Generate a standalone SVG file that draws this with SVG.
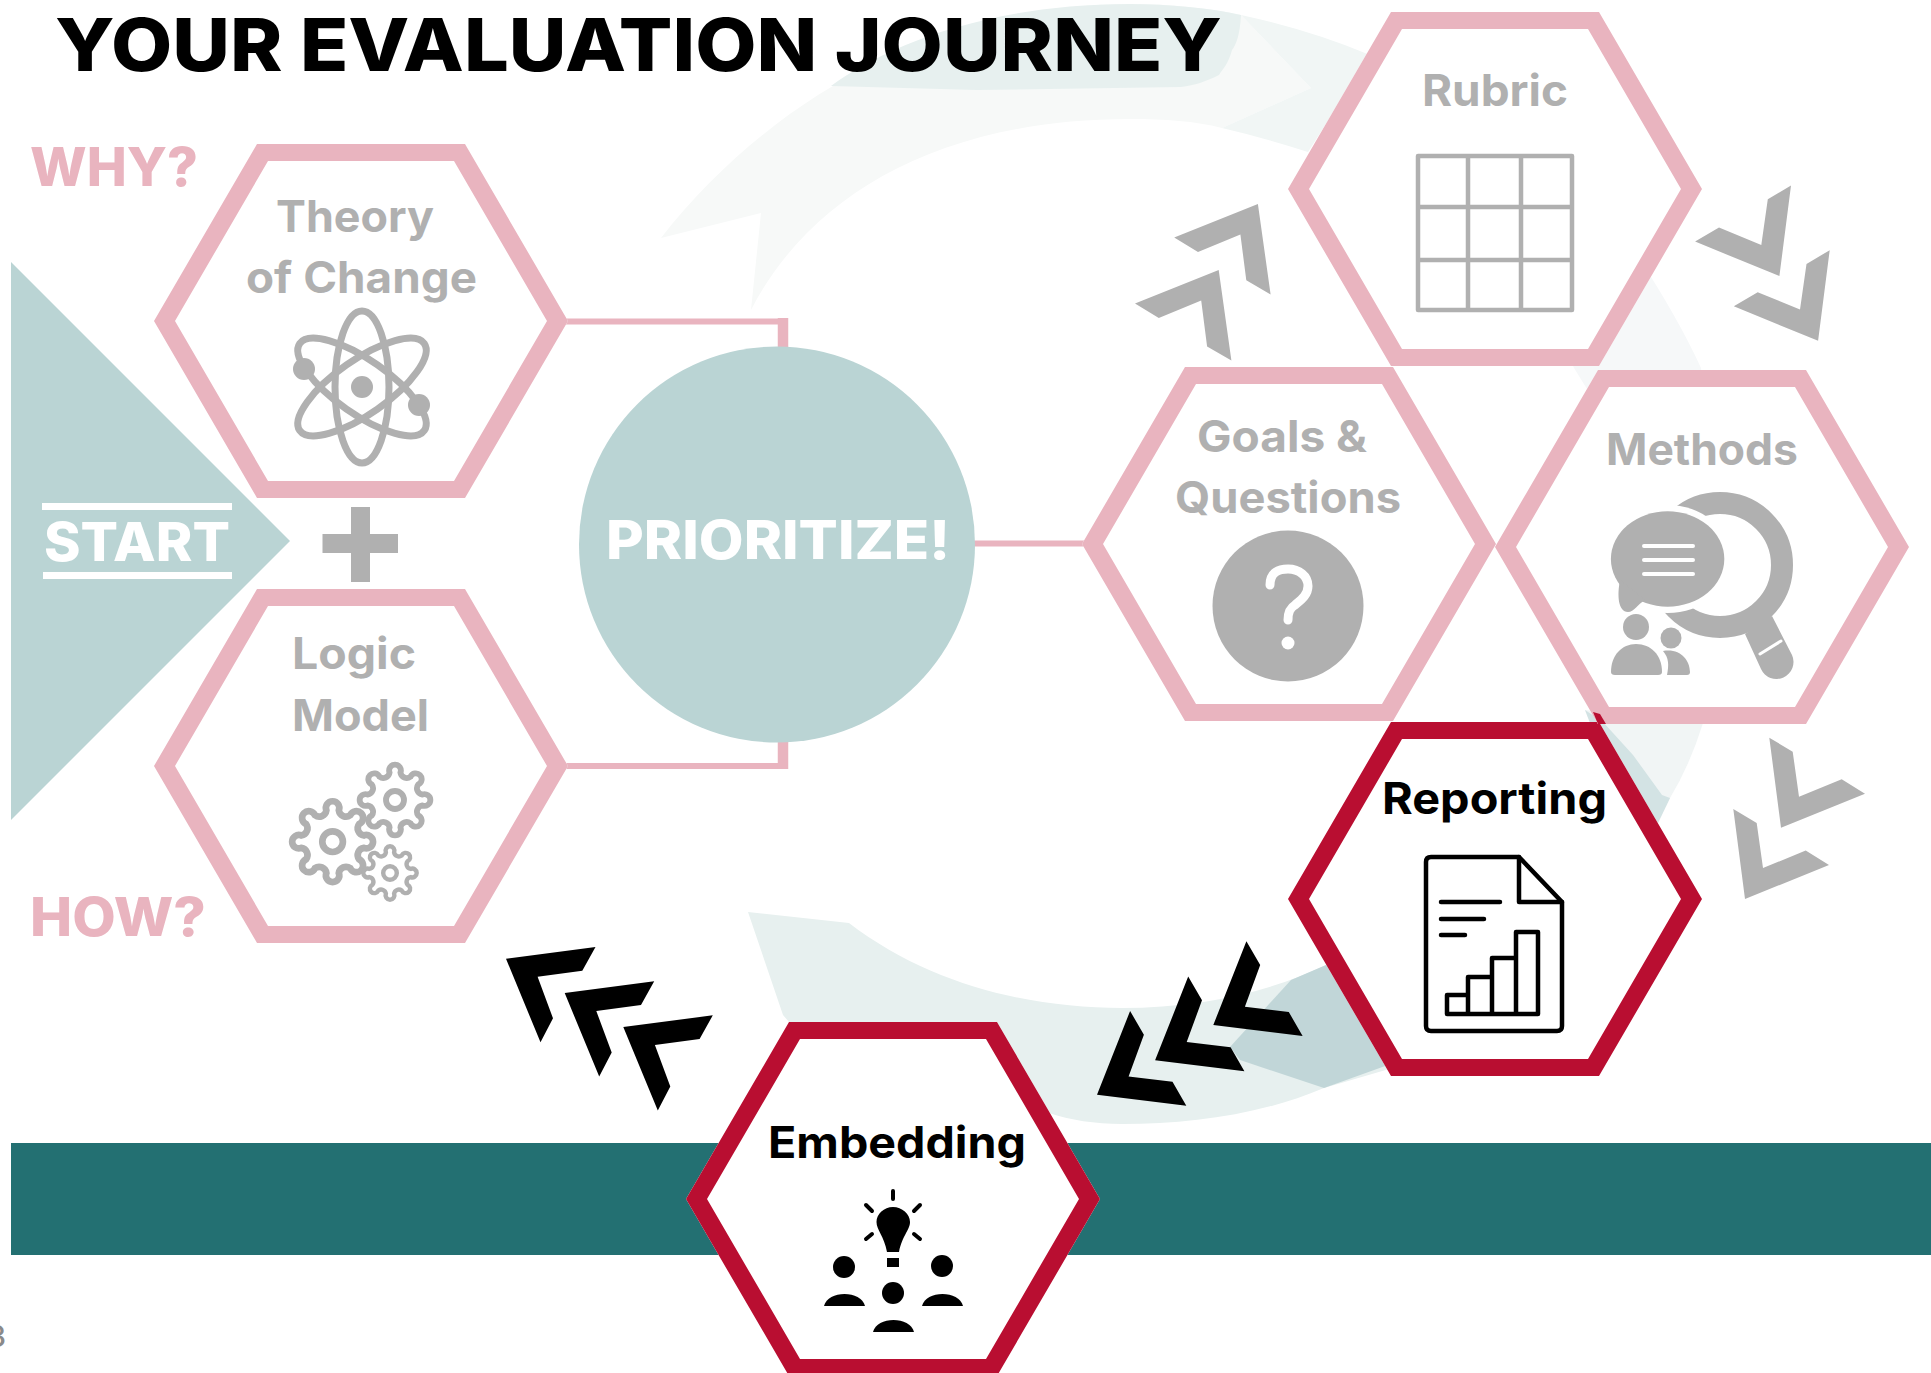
<svg xmlns="http://www.w3.org/2000/svg" xmlns:xlink="http://www.w3.org/1999/xlink" width="1931" height="1373" viewBox="0 0 1931 1373">
<style>
text{font-family:"Inter","Liberation Sans",sans-serif;font-weight:700;font-size:44px}
.gray{fill:#b0b0b0}.pink{fill:#e9b4bf}.red{fill:#b90e31}.black{fill:#000}.white{fill:#fff}.mint{fill:#bad4d4}
.sg{fill:none;stroke:#b0b0b0}.sk{fill:none;stroke:#000}.sw{fill:none;stroke:#fff;stroke-linecap:round}
.big{font-size:53px;font-weight:800}
.conn{fill:none;stroke:#e9b4bf}
</style>
<defs>
<path id="hex" fill-rule="evenodd" d="M-207 0L-104 -177H104L207 0L104 177H-104ZM-186 0L-93 160H93L186 0L93 -160H-93Z"/>
<polygon id="hexfill" points="-207,0 -104,-177 104,-177 207,0 104,177 -104,177" fill="#fff"/>
<g id="gear"><path d="M30.4 -6.05A6.5 6.5 0 1 1 30.4 6.05A7 7 0 0 0 25.8 17.2A6.5 6.5 0 1 1 17.2 25.8A7 7 0 0 0 6.05 30.4A6.5 6.5 0 1 1 -6.05 30.4A7 7 0 0 0 -17.2 25.8A6.5 6.5 0 1 1 -25.8 17.2A7 7 0 0 0 -30.4 6.05A6.5 6.5 0 1 1 -30.4 -6.05A7 7 0 0 0 -25.8 -17.2A6.5 6.5 0 1 1 -17.2 -25.8A7 7 0 0 0 -6.05 -30.4A6.5 6.5 0 1 1 6.05 -30.4A7 7 0 0 0 17.2 -25.8A6.5 6.5 0 1 1 25.8 -17.2A7 7 0 0 0 30.4 -6.05Z" fill="#fff" stroke="#b0b0b0" stroke-width="6.5"/><circle r="10" fill="#fff" stroke="#b0b0b0" stroke-width="6.5"/></g>
<path id="dome" d="M-20.5 0C-18.5 -8 -9.5 -12 0 -12C9.5 -12 18.5 -8 20.5 0Z"/>
<polygon id="chevBlackA" points="1246.4,941.3 1260.2,965 1244.9,1006.7 1288.8,1012 1302.6,1036 1213.3,1025"/>
<polygon id="chevBlackB" points="506,958.7 595.5,947 582.3,970.7 537.6,976.7 553,1018.3 540.5,1042.3"/>
<polygon id="chevGrayUp" points="1174.2,237.4 1257.9,203.9 1270.6,294.5 1246.3,280.3 1240.4,234.5 1198,252"/>
<polygon id="chevGrayDown" points="1791,185.5 1779.4,276.1 1695.1,241.6 1719,227.5 1761.3,244.9 1767.8,199.2"/>
<polygon id="chevGrayLow" points="1769.3,737.7 1792.7,751.7 1799,796.7 1841.7,779.3 1865,793.7 1781,827.7"/>
</defs>
<rect width="1931" height="1373" fill="#fff"/>

<g id="ghost-arrows">
<path fill="#f7f9f8" d="M661 238C765 105 930 4 1130 4C1170 4 1210 8 1241 15L1311 88L1222 128C1195 121 1165 119 1130 119C940 119 810 195 751 310L761 213Z"/>
<path fill="#f1f6f5" d="M1241 15Q1310 30 1370 55L1308 152Q1265 138 1222 128L1311 88Z"/>
<path fill="#e7f0ef" d="M831 86C880 50 980 4 1130 4C1170 4 1210 8 1241 15C1240 35 1236 45 1232 50C1228 65 1222 70 1219 75C1205 82 1195 85 1181 87L977 90Z"/>
<path fill="#f6f8f9" d="M1600 200Q1670 300 1701 368L1720 550L1703 723L1600 800L1590 600L1587 389L1574 368L1520 250Z"/>
<path fill="#f1f5f5" d="M1585 710L1703 723Q1690 765 1670 798L1658 823L1620 800Z"/>
<path fill="#d3e3e4" d="M1585 710L1603 722L1633 755L1662 795L1670 798L1658 823L1620 800Z"/>
<path fill="#e7f0ef" d="M748 912L849 923C930 985 1030 1008 1122 1008C1200 1008 1270 992 1326 965L1400 930L1420 1060L1324 1088C1260 1115 1190 1124 1122 1124C1095 1124 1070 1120 1049 1113L900 1100L789 1022L783 1015Z"/>
<path fill="#c1d6d8" d="M1291 980L1326 965L1400 1000L1388 1065L1324 1088L1240 1060L1230 1047Z"/>
</g>

<g id="band"><rect x="11" y="1143" width="1920" height="112" fill="#237072"/></g>

<g id="connectors">
<path class="conn" stroke-width="6" d="M560 321.5H783"/>
<path class="conn" stroke-width="10.5" d="M783 318V350"/>
<path class="conn" stroke-width="6" d="M560 766H783"/>
<path class="conn" stroke-width="10.5" d="M783 740V769"/>
<path class="conn" stroke-width="6" d="M972 543.5H1088"/>
</g>

<g id="title"><text class="big black" x="55" y="71" style="font-size:73px" textLength="1167" lengthAdjust="spacingAndGlyphs">YOUR EVALUATION JOURNEY</text></g>

<g id="why"><text class="big pink" x="30" y="186" textLength="168" lengthAdjust="spacingAndGlyphs">WHY?</text></g>
<g id="how"><text class="big pink" x="30" y="936" textLength="176" lengthAdjust="spacingAndGlyphs">HOW?</text></g>

<g id="start">
<polygon class="mint" points="11,262 290,541 11,820"/>
<rect class="white" x="42" y="503" width="190" height="7"/>
<rect class="white" x="43" y="572" width="189" height="7"/>
<text class="big white" x="44" y="561" textLength="186" lengthAdjust="spacingAndGlyphs">START</text>
</g>

<g id="plus"><path class="gray" d="M351 507H370V534H398V553H370V582H351V553H322.5V534H351Z"/></g>

<g id="theory-of-change">
<use href="#hexfill" x="361" y="321"/><use href="#hex" x="361" y="321" class="pink"/>
<text class="gray" x="276" y="232" textLength="158" lengthAdjust="spacingAndGlyphs">Theory</text>
<text class="gray" x="246" y="293" textLength="231" lengthAdjust="spacingAndGlyphs">of Change</text>
<g class="sg" stroke-width="7">
<ellipse cx="362" cy="387" rx="27" ry="76"/>
<ellipse cx="362" cy="387" rx="27" ry="76" transform="rotate(55 362 387)"/>
<ellipse cx="362" cy="387" rx="27" ry="76" transform="rotate(-55 362 387)"/>
</g>
<circle class="gray" cx="362" cy="387" r="11"/>
<circle class="gray" cx="304" cy="369" r="11"/>
<circle class="gray" cx="419" cy="405" r="11"/>
</g>

<g id="logic-model">
<use href="#hexfill" x="361" y="766"/><use href="#hex" x="361" y="766" class="pink"/>
<text class="gray" x="292" y="669" textLength="124" lengthAdjust="spacingAndGlyphs">Logic</text>
<text class="gray" x="292" y="731" textLength="137" lengthAdjust="spacingAndGlyphs">Model</text>
<use href="#gear" transform="translate(395 800) scale(.9)"/>
<use href="#gear" transform="translate(332.6 841.7) scale(1.03)"/>
<use href="#gear" transform="translate(390 873) scale(.68)"/>
</g>

<g id="prioritize">
<circle class="mint" cx="777" cy="544.5" r="198"/>
<text class="big white" x="606" y="559" textLength="344" lengthAdjust="spacingAndGlyphs">PRIORITIZE!</text>
</g>

<g id="rubric">
<use href="#hexfill" x="1495" y="189"/><use href="#hex" x="1495" y="189" class="pink"/>
<text class="gray" x="1422" y="106" textLength="146" lengthAdjust="spacingAndGlyphs">Rubric</text>
<g class="sg" stroke-width="4.5" stroke-linejoin="round">
<rect x="1418" y="156" width="154" height="154"/>
<path d="M1468 156V310M1521 156V310M1418 207H1572M1418 260H1572"/>
</g>
</g>

<g id="goals-questions">
<use href="#hexfill" x="1289" y="544"/><use href="#hex" x="1289" y="544" class="pink"/>
<text class="gray" x="1197" y="452" textLength="170" lengthAdjust="spacingAndGlyphs">Goals &amp;</text>
<text class="gray" x="1175" y="513" textLength="226" lengthAdjust="spacingAndGlyphs">Questions</text>
<circle class="gray" cx="1288" cy="606" r="75.5"/>
<path class="sw" stroke-width="9" d="M1270 585C1270 572 1279 569 1288 569C1299 569 1308 576 1308 586C1308 595 1301 600 1295 605C1290 608 1288 612 1288 620"/>
<circle class="white" cx="1288" cy="643" r="6.5"/>
</g>

<g id="reporting">
<use href="#hexfill" x="1495" y="899"/><use href="#hex" x="1495" y="899" class="red"/>
<text class="black" x="1382" y="814" textLength="225" lengthAdjust="spacingAndGlyphs">Reporting</text>
<g class="sk" stroke-width="4.5" stroke-linejoin="round" stroke-linecap="round">
<path d="M1431 857H1519L1562 902V1026Q1562 1031 1557 1031H1431Q1426 1031 1426 1026V862Q1426 857 1431 857Z"/>
<path d="M1519 857V902H1562"/>
<path d="M1441 902H1500M1441 919H1484M1441 935H1465"/>
<path d="M1447 1014V995H1468V1014M1468 995V977H1492V1014M1492 977V958H1516V1014M1516 958V932H1538V1014M1447 1014H1538"/>
</g>
</g>

<g id="methods">
<use href="#hexfill" x="1702" y="547"/><use href="#hex" x="1702" y="547" class="pink"/>
<text class="gray" x="1606" y="465" textLength="192" lengthAdjust="spacingAndGlyphs">Methods</text>
<circle class="sg" cx="1720" cy="565" r="62" stroke-width="22"/>
<path class="gray" d="M1745 634L1761 669A17 17 0 0 0 1792 655L1772 616Z"/>
<ellipse class="white" cx="1667.6" cy="559" rx="63" ry="54"/>
<ellipse class="gray" cx="1667.6" cy="559" rx="56.7" ry="47.7"/>
<path class="gray" d="M1620 580C1617 595 1618 612 1628 612C1634 612 1638 604 1645 600Z"/>
<path class="sw" stroke-width="4" d="M1644 546H1693M1644 560H1693M1644 574H1693"/>
<path class="sw" stroke-width="3" d="M1760 654L1781 641"/>
<circle class="gray" cx="1636" cy="627" r="13"/>
<path class="gray" d="M1611 672C1611 655 1622 644 1636 644C1651 644 1662 655 1662 672Q1662 675 1658 675H1615Q1611 675 1611 672Z"/>
<circle class="gray" cx="1671" cy="638" r="10.5"/>
<path class="gray" d="M1663 651C1680 648 1690 660 1690 672Q1690 675 1687 675H1667C1669 665 1669 658 1663 651Z"/>
</g>

<g id="reporting-corner"><polygon class="red" points="1593,712 1600,714 1606,724 1598,724"/></g>

<g id="embedding">
<use href="#hexfill" x="893" y="1199"/><use href="#hex" x="893" y="1199" class="red"/>
<text class="black" x="768" y="1158" textLength="258" lengthAdjust="spacingAndGlyphs">Embedding</text>
<path class="black" d="M893 1207C884 1207 876.5 1214 876.5 1222C876.5 1230 884 1236 887 1252H899C902 1236 910 1230 910 1222C910 1214 902 1207 893 1207Z"/>
<rect class="black" x="887" y="1258" width="12" height="9"/>
<path class="sk" stroke-width="4" stroke-linecap="round" d="M893 1191V1199M866 1205L872 1211M920 1205L914 1211M872 1234L866 1239M914 1234L920 1239"/>
<circle class="black" cx="844" cy="1267" r="11"/>
<circle class="black" cx="942" cy="1266" r="11"/>
<circle class="black" cx="893" cy="1293" r="11"/>
<use href="#dome" x="844.5" y="1306" class="black"/>
<use href="#dome" x="942.5" y="1306" class="black"/>
<use href="#dome" x="893.5" y="1332" class="black"/>
</g>

<g id="chevrons">
<use href="#chevBlackA" class="black"/>
<use href="#chevBlackA" class="black" x="-58.2" y="35.3"/>
<use href="#chevBlackA" class="black" x="-116.3" y="69.7"/>
<use href="#chevBlackB" class="black"/>
<use href="#chevBlackB" class="black" x="58.7" y="34.3"/>
<use href="#chevBlackB" class="black" x="117.3" y="68.3"/>
<use href="#chevGrayUp" class="gray"/>
<use href="#chevGrayUp" class="gray" x="-39.2" y="66.1"/>
<use href="#chevGrayDown" class="gray"/>
<use href="#chevGrayDown" class="gray" x="38.7" y="64.7"/>
<use href="#chevGrayLow" class="gray"/>
<use href="#chevGrayLow" class="gray" x="-36" y="71.3"/>
</g>

<g id="page-number"><text x="6" y="1347" text-anchor="end" style="font-size:30px;font-weight:500" fill="#8a8a8a">3</text></g>
</svg>
